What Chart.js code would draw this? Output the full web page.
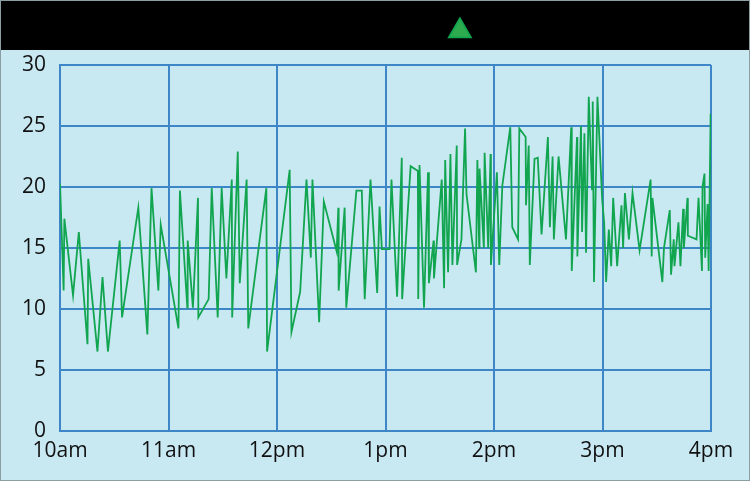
<!DOCTYPE html>
<html>
<head>
<meta charset="utf-8">
<script src="https://cdn.jsdelivr.net/npm/chart.js@4"></script>
<style>
  html, body { margin: 0; padding: 0; background: #c8e8f2; }
  #wrap { width: 750px; height: 481px; }
</style>
</head>
<body>
<div id="wrap"><canvas id="myChart"></canvas></div>
<script>
// minutes after 10am
const minutes = [0, 2.0, 2.4, 7.2, 10.4, 15.2, 15.6, 20.7, 23.5, 26.5, 33.0, 34.3, 43.3, 48.3, 50.6, 54.4, 55.7,
  65.5, 66.3, 70.4, 70.6, 73.5, 76.3, 76.5, 82.2, 83.9, 87.2, 89.4, 92.0,
  95.0, 95.2, 98.3, 99.4, 103.2, 104.1, 114.1, 114.5, 127.0, 128.0, 132.8, 136.3, 137.8, 138.7, 139.6,
  143.3, 145.9, 153.0, 153.9, 154.1, 157.4, 158.3, 163.9, 166.9, 168.5, 171.7, 175.4, 176.7, 178.0, 182.2,
  183.3, 186.4, 189.0, 189.2, 193.9, 197.9, 198.1, 198.8, 201.3, 203.5, 204.0, 206.6, 206.8,
  211.1, 212.4, 213.0, 214.6, 215.9, 217.0, 219.4, 219.6, 222.0, 224.0, 224.8, 230.0, 230.8, 231.8, 232.0,
  234.4, 234.8, 236.8, 238.1, 238.3, 241.6, 242.9, 244.6, 249.0, 250.1, 253.3, 254.0, 257.5, 257.7, 259.2,
  259.8, 262.4, 264.2, 266.3, 269.8, 270.9, 272.4,
  273.1, 275.7, 279.8, 282.7, 283.0, 285.9, 286.1, 288.1, 288.7, 290.0, 290.9, 292.4, 294.2, 294.6, 295.3,
  297.2, 299.8, 300.9, 302.0, 303.5, 304.8, 305.9, 308.1, 310.5, 311.4, 312.4, 314.6, 316.6, 320.5, 326.6,
  327.2, 327.6, 333.1, 334.0, 337.2, 337.9, 339.4, 339.8, 342.0, 343.1, 344.6, 345.0, 347.0, 347.2, 352.0,
  353.1, 355.0, 355.3, 356.4, 356.8, 358.1, 358.7, 359.8];
const values = [20.3, 11.5, 17.4, 11.1, 16.3, 7.1, 14.1, 6.5, 12.6, 6.5, 15.6, 9.3, 18.3, 7.9, 19.9, 11.5, 16.9,
  8.4, 19.7, 10.1, 15.6, 10.1, 19.1, 9.3, 10.8, 19.9, 9.3, 19.9, 12.5,
  20.6, 9.3, 22.9, 12.1, 20.6, 8.4, 19.9, 6.5, 21.4, 8.1, 11.4, 20.6, 16.6, 14.2, 20.6,
  8.9, 18.8, 14.7, 18.3, 11.5, 18.3, 10.1, 19.7, 19.7, 10.8, 20.6, 11.3, 18.4, 14.9, 14.9,
  20.6, 11.0, 22.4, 10.8, 21.7, 21.3, 10.8, 21.8, 10.1, 21.2, 12.1, 15.6, 12.5,
  20.6, 11.7, 22.2, 13.0, 22.7, 13.6, 23.4, 13.6, 15.7, 24.8, 19.4, 13.0, 22.2, 15.0, 21.5,
  15.0, 22.8, 15.0, 22.7, 13.6, 21.2, 13.6, 20.1, 24.9, 16.7, 15.7, 24.8, 24.1, 18.5, 23.4,
  13.6, 22.3, 22.4, 16.1, 24.1, 16.7, 22.5,
  15.7, 22.5, 15.7, 24.9, 13.1, 24.1, 14.3, 25.0, 16.3, 24.4, 14.6, 27.4, 19.8, 27.0, 12.2,
  27.4, 19.0, 17.1, 12.2, 16.5, 13.5, 19.1, 13.5, 18.5, 15.0, 19.5, 15.7, 19.5, 14.8, 20.6,
  14.3, 19.1, 12.2, 15.0, 18.1, 12.8, 15.7, 13.5, 17.1, 13.5, 18.2, 15.0, 19.1, 16.0, 15.7,
  19.1, 13.1, 20.0, 21.1, 14.2, 18.6, 13.1, 26.0];
const hourLabels = ['10am', '11am', '12pm', '1pm', '2pm', '3pm', '4pm'];

const points = minutes.map((m, i) => ({ x: m, y: values[i] }));

const frame = {
  id: 'frame',
  beforeDraw(chart) {
    const c = chart.ctx;
    c.save();
    c.fillStyle = '#c8e8f2';
    c.fillRect(0, 0, chart.width, chart.height);
    c.fillStyle = '#000';
    c.fillRect(0, 0, chart.width, 50);
    c.strokeStyle = '#8a9ea4';
    c.lineWidth = 1;
    c.strokeRect(0.5, 0.5, chart.width - 1, chart.height - 1);
    c.restore();
  }
};

new Chart(document.getElementById('myChart'), {
  type: 'line',
  data: {
    datasets: [{
      label: 'Air temperatures, in °C',
      data: points,
      borderColor: '#12a550',
      backgroundColor: '#2eaa4f',
      borderWidth: 1.8,
      pointRadius: 0,
      tension: 0
    }]
  },
  options: {
    responsive: true,
    maintainAspectRatio: false,
    animation: false,
    layout: { padding: { left: 8, right: 39, top: 0, bottom: 9 } },
    plugins: {
      legend: {
        rtl: true,
        labels: {
          usePointStyle: true,
          pointStyle: 'triangle',
          color: '#000',
          font: { family: 'Open Sans', size: 18 },
          padding: 22
        }
      },
      tooltip: { enabled: false }
    },
    scales: {
      x: {
        type: 'linear',
        min: 0,
        max: 360,
        grid: { color: '#3d87c9', lineWidth: 2, drawTicks: false },
        border: { color: '#3d87c9', width: 2 },
        ticks: {
          stepSize: 60,
          padding: 8,
          color: '#111',
          font: { family: 'Open Sans', size: 21 },
          callback: v => hourLabels[v / 60]
        }
      },
      spacer: {
        type: 'linear',
        position: 'top',
        min: 0,
        max: 360,
        grid: { display: false },
        border: { display: false },
        ticks: { display: false },
        afterFit: s => { s.height = 15; }
      },
      y: {
        min: 0,
        max: 30,
        grid: { color: '#3d87c9', lineWidth: 2, drawTicks: false },
        border: { color: '#3d87c9', width: 2 },
        ticks: {
          stepSize: 5,
          padding: 14,
          color: '#111',
          font: { family: 'Open Sans', size: 21 }
        }
      }
    }
  },
  plugins: [frame]
});
</script>
</body>
</html>
